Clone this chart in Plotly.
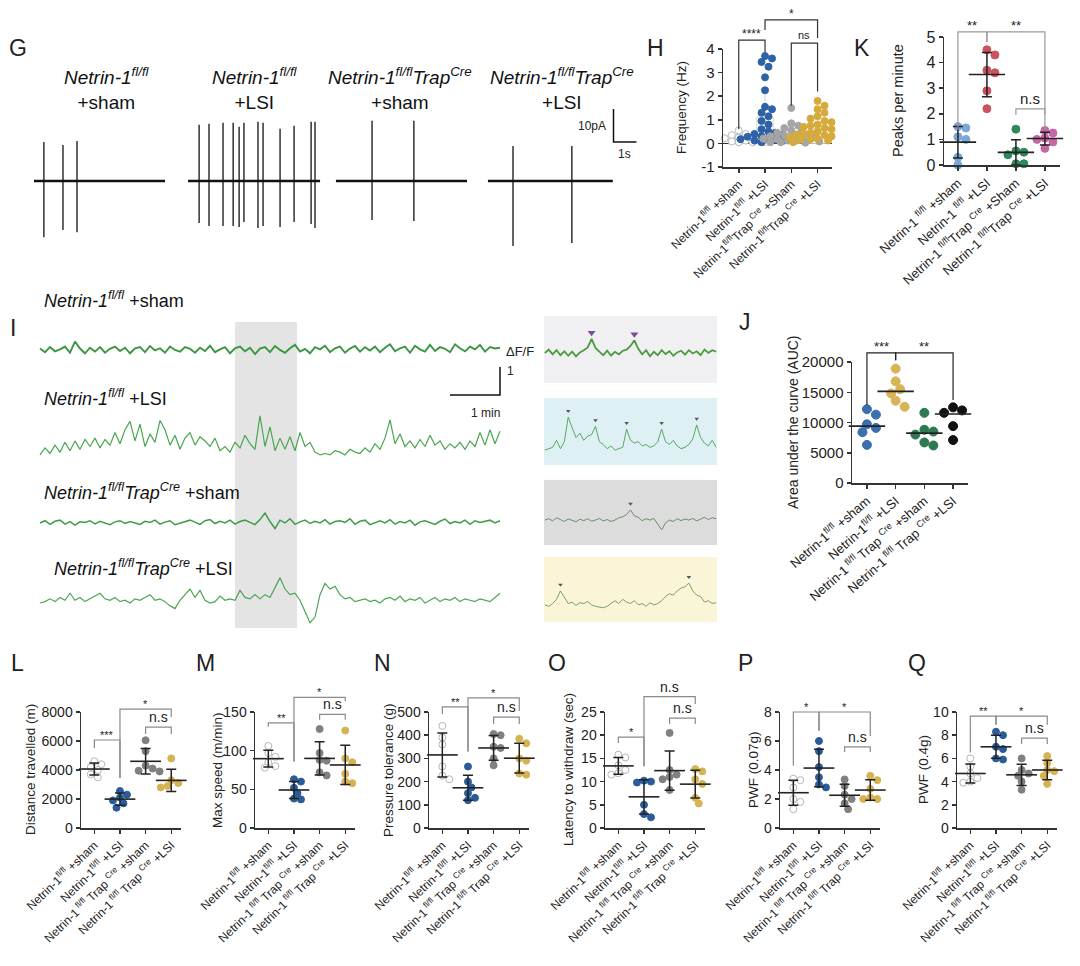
import numpy as np
import plotly.graph_objects as go

W, H = 1080, 966
FONT = "Arial, 'Liberation Sans', sans-serif"
INK = "#222222"

# ===================== DATA =====================
# ---- Panel G: patch-clamp traces (spike time s, peak pA, trough pA)
G_TRACE_DURATION_S = [5.7, 5.74, 5.7, 5.43]
G_SPIKE_TIMES = [
    [0.43, 1.26, 1.87],
    [0.48, 0.91, 1.52, 1.96, 2.22, 2.43, 3.04, 3.26, 4.0, 4.61, 5.35, 5.52],
    [1.57, 3.39],
    [1.09, 3.65],
]
G_SPIKE_PEAK = [
    [11.8, 10.9, 12.1],
    [17.0, 17.3, 17.6, 17.6, 16.4, 17.6, 17.9, 17.6, 15.8, 16.7, 17.9, 17.9],
    [18.2, 18.2],
    [10.6, 10.6],
]
G_SPIKE_TROUGH = [
    [-17.0, -14.8, -15.5],
    [-12.7, -13.6, -13.6, -13.6, -13.9, -12.4, -14.2, -13.6, -13.9, -12.4, -13.0, -14.2],
    [-11.8, -12.1],
    [-19.7, -18.8],
]
G_HEADERS = [
    "<i>Netrin-1<sup>fl/fl</sup></i><br>+sham",
    "<i>Netrin-1<sup>fl/fl</sup></i><br>+LSI",
    "<i>Netrin-1<sup>fl/fl</sup>Trap<sup>Cre</sup></i><br>+sham",
    "<i>Netrin-1<sup>fl/fl</sup>Trap<sup>Cre</sup></i><br>+LSI",
]

# ---- Panel I: ΔF/F traces sampled every 0.1 min
I_STEP_MIN = 0.1
I_SHAM = [0.05, -0.08, 0.1, -0.05, 0.02, 0.12, -0.1, 0.3, 0.05, -0.12, 0.08, -0.06, 0.1, -0.1, 0.04,
          0.12, -0.04, 0.08, -0.12, 0.06, 0.1, -0.08, 0.14, -0.02, 0.06, -0.1, 0.12, 0.0, -0.06, 0.1,
          0.04, -0.1, 0.08, -0.04, 0.15, -0.08, 0.02, 0.1, -0.12, 0.06, 0.12, -0.05, 0.08, -0.15, 0.05,
          0.1, -0.08, 0.14, 0.0, -0.1, 0.06, 0.18, -0.06, 0.04, -0.12, 0.1, 0.02, 0.15, -0.08, 0.06,
          0.12, -0.1, 0.05, 0.14, -0.06, 0.1, -0.02, 0.12, -0.08, 0.08, 0.2, -0.05, 0.06, 0.12, -0.1,
          0.15, 0.02, -0.06, 0.18, -0.04, 0.1, 0.04, -0.08, 0.2, 0.06, -0.05, 0.12, 0.02, 0.18, -0.06,
          0.1, 0.05, 0.08]
I_LSI = [0.0, 0.25, 0.05, 0.35, 0.1, 0.45, 0.15, 0.5, 0.2, 0.55, 0.3, 0.6, 0.25, 0.55, 0.35,
         0.8, 0.4, 0.9, 1.2, 0.5, 1.1, 0.3, 0.75, 0.45, 1.23, 0.9, 0.35, 0.7, 0.2, 0.6,
         0.8, 0.35, 0.65, 0.5, 0.3, 0.6, 0.15, 0.3, 0.1, 0.45, 0.25, 0.7, 0.4, 0.2, 1.4,
         0.3, 1.0, 0.15, 0.6, 0.2, 0.65, 0.15, 0.8, 0.3, 0.45, 0.1, 0.0, 0.05, 0.0, 0.15,
         0.1, 0.0, 0.2, 0.1, 0.05, 0.25, 0.1, 0.4, 0.2, 0.6, 1.25, 0.4, 0.75, 0.3, 0.5,
         0.25, 0.55, 0.3, 0.7, 0.35, 0.5, 0.2, 0.4, 0.25, 0.45, 0.2, 0.5, 0.3, 0.8, 0.35,
         0.9, 0.4, 0.85]
I_TRAP_SHAM = [0.0, 0.08, -0.05, 0.06, 0.1, -0.04, 0.05, -0.08, 0.04, 0.02, 0.08, -0.03, 0.06, 0.0, -0.06,
               0.04, 0.08, -0.02, 0.05, 0.0, -0.05, 0.06, 0.02, 0.1, -0.04, 0.03, 0.08, -0.06, 0.0, 0.05,
               0.1, 0.03, -0.05, 0.08, 0.12, -0.02, 0.06, 0.0, 0.1, -0.04, 0.05, 0.1, 0.02, -0.06, 0.12,
               0.35, 0.05, -0.2, 0.1, 0.0, 0.15, -0.05, 0.04, 0.1, -0.02, 0.06, 0.0, 0.12, -0.04, 0.05,
               0.08, 0.02, 0.15, -0.05, 0.06, 0.1, -0.06, 0.02, 0.08, 0.0, 0.12, -0.04, 0.05, 0.0, 0.1,
               -0.08, 0.04, 0.08, 0.02, -0.05, 0.06, 0.14, -0.02, 0.05, 0.0, 0.1, -0.05, 0.08, 0.02, 0.06,
               0.1, 0.0, 0.08]
I_TRAP_LSI = [0.0, 0.05, 0.15, 0.05, 0.2, 0.1, 0.35, 0.1, 0.2, 0.05, 0.15, 0.25, 0.35, 0.15, 0.1,
              0.2, 0.05, 0.1, 0.0, 0.15, 0.1, 0.2, 0.3, 0.1, 0.15, 0.05, -0.1, -0.2, 0.1, 0.3,
              0.5, 0.2, 0.45, 0.1, 0.0, 0.05, 0.25, 0.1, 0.15, 0.1, 0.45, 0.2, 0.15, 0.3, 0.15,
              0.3, 0.2, 0.55, 0.9, 0.5, 0.3, 0.35, 0.1, -0.3, -0.7, -0.5, 0.3, 0.7, 0.5, 0.6,
              0.3, 0.15, 0.2, 0.05, 0.1, 0.15, 0.05, 0.1, 0.0, 0.15, 0.2, 0.1, 0.25, 0.05, 0.15,
              0.1, 0.2, 0.0, 0.1, 0.2, 0.05, 0.15, 0.1, 0.2, 0.05, 0.15, 0.1, 0.05, 0.15, 0.1,
              0.05, 0.2, 0.35]
I_LABELS = [
    "<i>Netrin-1<sup>fl/fl</sup></i> +sham",
    "<i>Netrin-1<sup>fl/fl</sup></i> +LSI",
    "<i>Netrin-1<sup>fl/fl</sup>Trap<sup>Cre</sup></i> +sham",
    "<i>Netrin-1<sup>fl/fl</sup>Trap<sup>Cre</sup></i> +LSI",
]
# insets (zoomed segments) and detected peaks (sample index)
INSET_SHAM = [0.0, 0.12, -0.05, 0.1, -0.08, 0.06, -0.1, 0.05, -0.12, 0.02, 0.1, 0.2, 0.5, 0.18, 0.05,
              -0.08, 0.08, -0.1, 0.04, -0.05, 0.08, 0.12, 0.25, 0.45, 0.15, -0.05, 0.1, -0.12, 0.04, -0.08,
              0.1, -0.04, 0.06, -0.1, 0.02, 0.08, -0.06, 0.1, -0.02, 0.06, -0.08, 0.12, 0.0, 0.1, 0.05]
INSET_LSI = [0.0, 0.05, 0.1, 0.35, 0.05, 0.3, 1.18, 0.8, 0.45, 0.6, 0.35, 0.5, 0.55, 0.85, 0.3,
             0.2, 0.05, 0.15, 0.0, 0.05, 0.1, 0.75, 0.35, 0.25, 0.3, 0.15, 0.2, 0.1, 0.15, 0.3,
             0.75, 0.3, 0.2, 0.35, 0.15, 0.05, 0.1, 0.2, 0.4, 0.9, 0.45, 0.25, 0.15, 0.35, 0.1]
INSET_TRAP_SHAM = [0.0, 0.05, -0.03, 0.08, 0.02, -0.05, 0.04, 0.0, -0.06, 0.03, -0.02, 0.05, -0.04, 0.0, 0.06,
                   -0.03, 0.02, -0.05, 0.0, 0.08, 0.12, 0.2, 0.36, 0.15, 0.1, -0.02, 0.05, 0.0, 0.06, -0.15,
                   -0.35, -0.1, 0.0, -0.05, 0.05, -0.02, 0.04, 0.0, 0.06, -0.03, 0.05, 0.1, 0.02, 0.08, 0.05]
INSET_TRAP_LSI = [0.0, -0.05, 0.05, 0.2, 0.5, 0.25, 0.05, 0.1, -0.02, 0.08, 0.05, 0.12, 0.0, -0.05, -0.08,
                  -0.1, -0.05, 0.05, 0.15, 0.05, 0.2, 0.1, 0.05, 0.15, 0.0, 0.05, -0.05, 0.08, 0.0, 0.05,
                  0.15, 0.3, 0.4, 0.35, 0.5, 0.6, 0.65, 0.78, 0.5, 0.35, 0.3, 0.1, 0.15, 0.05, 0.08]
INSET_PEAKS = [[12, 23], [6, 13, 21, 30, 39], [22], [4, 37]]

# ---- Panel H: firing frequency (Hz)
H_SHAM = [0.55, 0.4, 0.35, 0.3, 0.25, 0.22, 0.2, 0.18, 0.15, 0.12, 0.1, 0.08, 0.05, 0.05, 0.02]
H_LSI = [3.7, 3.6, 3.45, 3.25, 2.8, 2.25, 1.55, 1.45, 1.3, 1.15, 0.95, 0.8, 0.6, 0.5, 0.45, 0.4,
         0.35, 0.3, 0.28, 0.25, 0.2, 0.18, 0.15, 0.12, 0.1, 0.08, 0.05]
H_TRAP_SHAM = [1.5, 0.85, 0.75, 0.65, 0.55, 0.5, 0.45, 0.4, 0.35, 0.32, 0.3, 0.25, 0.22, 0.2, 0.18,
               0.15, 0.12, 0.1, 0.08, 0.05, 0.05, 0.03]
H_TRAP_LSI = [1.8, 1.6, 1.45, 1.3, 1.15, 1.05, 0.95, 0.9, 0.8, 0.75, 0.7, 0.65, 0.6, 0.55, 0.5,
              0.45, 0.4, 0.38, 0.35, 0.3, 0.28, 0.25, 0.2, 0.18, 0.15, 0.12, 0.1, 0.08, 0.05]
H_TICKS = [-1, 0, 1, 2, 3, 4]

# ---- Panel K: peaks per minute
K_VALUES = [[1.5, 1.45, 1.1, 1.0, 0.3, 0.0], [4.5, 4.3, 3.7, 3.6, 2.9, 2.2],
            [1.4, 0.55, 0.5, 0.4, 0.05, 0.05], [1.35, 1.25, 1.05, 1.0, 0.9, 0.65]]
K_TICKS = [0, 1, 2, 3, 4, 5]

# ---- Panel J: area under the curve
J_VALUES = [[12200, 11300, 9700, 9100, 8400, 6300], [18900, 16800, 15500, 14800, 13600, 12600],
            [11600, 8800, 8500, 8000, 6700, 6200], [12500, 12000, 11600, 11200, 9400, 7100]]
J_TICKS = [0, 5000, 10000, 15000, 20000]

# ---- Panels L-Q: behaviour
L_VALUES = [[4600, 4400, 4200, 4000, 3700, 3500], [2550, 2300, 2100, 1900, 1700, 1400],
            [6050, 5300, 4300, 4100, 3950, 3900], [4800, 3300, 3100, 2900, 2800, 2800]]
M_VALUES = [[106, 97, 92, 85, 80, 78], [63, 60, 52, 45, 38, 37],
            [128, 97, 88, 87, 72, 68], [126, 90, 85, 70, 60, 58]]
N_VALUES = [[440, 390, 360, 265, 225, 210], [265, 200, 175, 150, 130, 120],
            [405, 400, 350, 345, 300, 270], [385, 365, 300, 290, 235, 230]]
O_VALUES = [[15.8, 15.2, 13.5, 12.5, 11.8, 11.5], [10.2, 10.0, 9.8, 5.0, 3.0, 2.3],
            [20.5, 12.5, 11.5, 11.0, 10.5, 8.2], [12.7, 12.2, 10.5, 9.5, 6.5, 5.3]]
P_VALUES = [[3.4, 3.3, 2.8, 2.0, 1.8, 1.3], [6.0, 5.3, 4.2, 3.5, 3.0, 2.8],
            [3.35, 2.9, 2.3, 2.0, 1.7, 1.3], [3.6, 3.3, 2.7, 2.1, 2.0, 2.0]]
Q_VALUES = [[6.0, 5.3, 4.7, 4.3, 4.0, 3.9], [8.3, 8.0, 7.0, 6.8, 6.0, 5.9],
            [6.0, 5.0, 4.7, 4.5, 4.0, 3.3], [6.2, 5.6, 5.0, 4.9, 4.5, 3.8]]
L_TICKS = [0, 2000, 4000, 6000, 8000]
M_TICKS = [0, 50, 100, 150]
N_TICKS = [0, 100, 200, 300, 400, 500]
O_TICKS = [0, 5, 10, 15, 20, 25]
P_TICKS = [0, 2, 4, 6, 8]
Q_TICKS = [0, 2, 4, 6, 8, 10]

H_LABELS = ["Netrin-1<sup>fl/fl</sup> +sham", "Netrin-1<sup>fl/fl</sup> +LSI",
            "Netrin-1<sup>fl/fl</sup>Trap<sup> Cre</sup> +Sham", "Netrin-1<sup>fl/fl</sup>Trap<sup> Cre</sup> +LSI"]
K_LABELS = ["Netrin-1 <sup>fl/fl</sup> +sham", "Netrin-1 <sup>fl/fl</sup> +LSI",
            "Netrin-1 <sup>fl/fl</sup>Trap <sup>Cre</sup> +Sham", "Netrin-1 <sup>fl/fl</sup>Trap <sup>Cre</sup> +LSI"]
STD_LABELS = ["Netrin-1<sup>fl/fl</sup> +sham", "Netrin-1<sup>fl/fl</sup> +LSI",
              "Netrin-1<sup> fl/fl</sup> Trap <sup>Cre</sup> +sham", "Netrin-1<sup> fl/fl</sup> Trap <sup>Cre</sup> +LSI"]

# significance brackets: (group i, group j, top, end at i, end at j, label)
H_SIG = [(0, 1, 4.38, 0.6, 3.85, "****"), (2, 3, 4.25, 1.6, 2.2, "ns"), (1, 3, 5.23, 4.8, 4.47, "*")]
K_SIG = [(0, 1, 5.2, 1.37, 4.8, "**"), (1, 3, 5.2, 4.8, 1.37, "**"), (2, 3, 2.19, 1.95, 1.95, "n.s")]
J_SIG = [(0, 1, 21500, 12900, 20300, "***"), (1, 3, 21500, 20300, 13700, "**")]
L_SIG = [(0, 1, 6070, 5520, 3450, "***"), (1, 3, 8200, 3450, 7650, "*"), (2, 3, 6960, 6480, 6480, "n.s")]
M_SIG = [(0, 1, 136, 131, 86, "**"), (1, 3, 169, 86, 164, "*"), (2, 3, 147, 140, 140, "n.s")]
N_SIG = [(0, 1, 522, 491, 330, "**"), (1, 3, 561, 330, 504, "*"), (2, 3, 478, 448, 448, "n.s")]
O_SIG = [(0, 1, 19.6, 18.3, 13.3, "*"), (1, 3, 28.3, 13.3, 26.7, "n.s"), (2, 3, 23.7, 22.4, 22.4, "n.s")]
P_SIG = [(0, 1, 8.0, 4.3, 6.7, "*"), (1, 3, 8.0, 6.7, 6.35, "*"), (2, 3, 5.6, 5.25, 5.25, "n.s")]
Q_SIG = [(0, 1, 9.65, 6.5, 8.9, "**"), (1, 3, 9.65, 8.9, 8.9, "*"), (2, 3, 7.75, 7.25, 7.25, "n.s")]

# ===================== LAYOUT HELPERS =====================
fig = go.Figure()
layout = dict(width=W, height=H, autosize=False, hovermode=False,
              margin=dict(l=0, r=0, t=0, b=0, pad=0, autoexpand=False),
              paper_bgcolor="white", plot_bgcolor="rgba(0,0,0,0)", showlegend=False,
              font=dict(family=FONT, color=INK))
shapes, annotations = [], []


def xn(n): return "x" if n == 1 else f"x{n}"
def yn(n): return "y" if n == 1 else f"y{n}"
def xk(n): return "xaxis" if n == 1 else f"xaxis{n}"
def yk(n): return "yaxis" if n == 1 else f"yaxis{n}"


def to_paper(ax, x, y):
    (x0p, x1p), (y0p, y1p) = ax["xpx"], ax["ypx"]
    (xa, xb), (ya, yb) = ax["xr"], ax["yr"]
    px = x0p + (x - xa) / (xb - xa) * (x1p - x0p)
    py = y0p + (y - ya) / (yb - ya) * (y1p - y0p)
    return px / W, 1 - py / H


def ann(text, xpx, ypx, size, xanchor="center", yanchor="middle", angle=0, color=INK):
    annotations.append(dict(text=text, x=xpx / W, y=1 - ypx / H, xref="paper", yref="paper",
                            showarrow=False, xanchor=xanchor, yanchor=yanchor, textangle=angle,
                            font=dict(size=size, color=color, family=FONT)))


def hidden_axes(n, ax):
    layout[xk(n)] = dict(domain=[ax["xpx"][0] / W, ax["xpx"][1] / W], range=list(ax["xr"]),
                         visible=False, anchor=yn(n), fixedrange=True, automargin=False)
    layout[yk(n)] = dict(domain=[1 - ax["ypx"][0] / H, 1 - ax["ypx"][1] / H], range=list(ax["yr"]),
                         visible=False, anchor=xn(n), fixedrange=True, automargin=False)


def dot_axes(n, ax, yticks, xlabels, tickfont=14, xfont=12, angle=-44, zeroline=False):
    common = dict(showline=True, linecolor="#333", linewidth=1.5, ticks="outside", ticklen=4,
                  tickwidth=1.5, tickcolor="#333", showgrid=False, fixedrange=True, automargin=False)
    layout[xk(n)] = dict(domain=[ax["xpx"][0] / W, ax["xpx"][1] / W], range=list(ax["xr"]),
                         anchor=yn(n), tickvals=[0, 1, 2, 3], ticktext=xlabels, tickangle=angle,
                         tickfont=dict(size=xfont, color=INK), zeroline=False, **common)
    layout[yk(n)] = dict(domain=[1 - ax["ypx"][0] / H, 1 - ax["ypx"][1] / H], range=list(ax["yr"]),
                         anchor=xn(n), tickvals=yticks, ticktext=[str(v) for v in yticks],
                         tickfont=dict(size=tickfont, color=INK), zeroline=zeroline,
                         zerolinecolor="#333", zerolinewidth=1.5, **common)


def swarm(vals, ppy, ppx, d):
    vals = np.asarray(vals, float)
    order = np.argsort(-vals)
    cands = [0.0]
    for k in range(1, 9):
        cands += [k * d * 0.5, -k * d * 0.5]
    placed, res = [], np.zeros(len(vals))
    for i in order:
        y = vals[i] * ppy
        choice, best_c, best_d = None, 0.0, -1
        for c in cands:
            md = min([np.hypot(c - px, y - py) for px, py in placed], default=1e9)
            if md >= d * 0.92:
                choice = c
                break
            if md > best_d:
                best_d, best_c = md, c
        if choice is None:
            choice = best_c
        placed.append((choice, y))
        res[i] = choice / ppx
    return res


def add_points(n, ax, groups, fills, lines, size):
    ppy = (ax["ypx"][0] - ax["ypx"][1]) / (ax["yr"][1] - ax["yr"][0])
    ppx = (ax["xpx"][1] - ax["xpx"][0]) / (ax["xr"][1] - ax["xr"][0])
    for g, vals in enumerate(groups):
        vals = np.asarray(vals, float)
        offs = swarm(vals, ppy, ppx, size)
        fig.add_trace(go.Scatter(x=g + offs, y=vals, mode="markers", xaxis=xn(n), yaxis=yn(n),
                                 marker=dict(size=size, color=fills[g], line=dict(color=lines[g], width=1)),
                                 cliponaxis=False, hoverinfo="skip"))


def add_summary(n, groups, size, center="mean", sd=True, color=INK):
    c = [float(np.mean(v)) if center == "mean" else float(np.median(v)) for v in groups]
    s = [float(np.std(v, ddof=1)) for v in groups]
    fig.add_trace(go.Scatter(x=list(range(len(groups))), y=c, mode="markers", xaxis=xn(n), yaxis=yn(n),
                             marker=dict(symbol="line-ew", size=size, color=color,
                                         line=dict(color=color, width=1.6)),
                             error_y=dict(type="data", array=s, visible=sd, color=color,
                                          thickness=1.5, width=5),
                             cliponaxis=False, hoverinfo="skip"))


def add_brackets(ax, sig, color, star_size=12, ns_size=13):
    for (i, j, top, yi, yj, lab) in sig:
        x1, y1 = to_paper(ax, i, yi)
        _, yt = to_paper(ax, i, top)
        x2, y2 = to_paper(ax, j, yj)
        shapes.append(dict(type="path", xref="paper", yref="paper",
                           path=f"M{x1},{y1} L{x1},{yt} L{x2},{yt} L{x2},{y2}",
                           line=dict(color=color, width=1.2)))
        xm = (x1 + x2) / 2
        annotations.append(dict(text=lab, x=xm, y=yt, xref="paper", yref="paper", showarrow=False,
                                xanchor="center", yanchor="bottom",
                                yshift=-3 if "*" in lab else 0,
                                font=dict(size=star_size if "*" in lab else ns_size, color=INK,
                                          family=FONT)))


# ===================== PANEL G =====================
G_AX = dict(xpx=(30, 645), ypx=(255, 100), xr=(-0.174, 26.57), yr=(-22.4, 24.5))
G_TRACE_START_S = [0.0, 6.7, 13.13, 19.74]
hidden_axes(1, G_AX)
for k in range(4):
    t0 = G_TRACE_START_S[k]
    fig.add_trace(go.Scatter(x=[t0, t0 + G_TRACE_DURATION_S[k]], y=[0, 0], mode="lines",
                             line=dict(color="#111", width=2.6), xaxis="x", yaxis="y", hoverinfo="skip"))
    sx, sy = [], []
    for t, up, dn in zip(G_SPIKE_TIMES[k], G_SPIKE_PEAK[k], G_SPIKE_TROUGH[k]):
        sx += [t0 + t, t0 + t, None]
        sy += [up, dn, None]
    fig.add_trace(go.Scatter(x=sx, y=sy, mode="lines", line=dict(color="#111", width=1.3),
                             xaxis="x", yaxis="y", hoverinfo="skip"))
# scale bar: 10 pA, 1 s
shapes.append(dict(type="path", xref="x", yref="y", path="M25.2,21.8 L25.2,11.8 L26.2,11.8",
                   line=dict(color="#111", width=1.5)))
annotations.append(dict(text="10pA", x=24.95, y=16.7, xref="x", yref="y", showarrow=False,
                        xanchor="right", font=dict(size=12, family=FONT, color=INK)))
annotations.append(dict(text="1s", x=25.7, y=8.3, xref="x", yref="y", showarrow=False,
                        xanchor="center", font=dict(size=12, family=FONT, color=INK)))
for k, xc in enumerate([107, 255, 400, 562]):
    ann(G_HEADERS[k], xc, 88, 19, color="#111")

# ===================== PANEL I =====================
I_AX = dict(xpx=(30, 545), ypx=(640, 310), xr=(-0.2, 10.1), yr=(0, 11.786))
I_BASELINES = [10.36, 6.61, 4.18, 1.32]
hidden_axes(4, I_AX)
shapes.append(dict(type="rect", xref="x4", yref="y4", x0=3.9, x1=5.14, y0=0.43, y1=11.36,
                   fillcolor="#e4e4e4", line=dict(width=0), layer="below"))
I_COLORS = ["#3a9642", "#48a650", "#3f9c48", "#4ba553"]
I_WIDTHS = [1.9, 1.2, 1.5, 1.2]
for k, vals in enumerate([I_SHAM, I_LSI, I_TRAP_SHAM, I_TRAP_LSI]):
    t = np.arange(len(vals)) * I_STEP_MIN
    fig.add_trace(go.Scatter(x=t, y=np.asarray(vals) + I_BASELINES[k], mode="lines",
                             line=dict(color=I_COLORS[k], width=I_WIDTHS[k]),
                             xaxis="x4", yaxis="y4", hoverinfo="skip"))
for lab, (xl, yl) in zip(I_LABELS, [(42, 300), (42, 397), (42, 491), (52, 567)]):
    ann(lab, xl, yl, 18, xanchor="left", color="#111")
# scale bar: ΔF/F 1, 1 min
shapes.append(dict(type="path", xref="x4", yref="y4", path="M9.2,9.75 L9.2,8.75 L8.2,8.75",
                   line=dict(color="#111", width=1.5)))
annotations.append(dict(text="ΔF/F", x=9.28, y=10.29, xref="x4", yref="y4", showarrow=False,
                        xanchor="left", font=dict(size=13, family=FONT, color=INK)))
annotations.append(dict(text="1", x=9.3, y=9.6, xref="x4", yref="y4", showarrow=False,
                        xanchor="left", font=dict(size=12, family=FONT, color=INK)))
annotations.append(dict(text="1 min", x=8.9, y=8.1, xref="x4", yref="y4", showarrow=False,
                        xanchor="center", font=dict(size=12, family=FONT, color=INK)))

# insets
IN_AX = dict(xpx=(544, 717), ypx=(622, 316), xr=(0, 1), yr=(0, 10.93))
IN_BASELINES = [9.61, 6.14, 3.64, 0.61]
IN_RECTS = [(8.54, 10.93, "#f0f0f3"), (5.61, 8.0, "#def0f4"), (2.75, 5.07, "#dcdcdc"), (0.0, 2.32, "#fbf5d8")]
hidden_axes(5, IN_AX)
for (y0, y1, col) in IN_RECTS:
    shapes.append(dict(type="rect", xref="x5", yref="y5", x0=0, x1=1, y0=y0, y1=y1,
                       fillcolor=col, line=dict(width=0), layer="below"))
IN_COLORS = ["#4b9a3e", "#5aa863", "#6f8c6c", "#7f9c70"]
IN_WIDTHS = [1.8, 1.0, 1.0, 1.0]
for k, vals in enumerate([INSET_SHAM, INSET_LSI, INSET_TRAP_SHAM, INSET_TRAP_LSI]):
    vals = np.asarray(vals)
    x = np.linspace(0.005, 0.995, len(vals))
    fig.add_trace(go.Scatter(x=x, y=vals + IN_BASELINES[k], mode="lines",
                             line=dict(color=IN_COLORS[k], width=IN_WIDTHS[k]),
                             xaxis="x5", yaxis="y5", hoverinfo="skip"))
    pk = INSET_PEAKS[k]
    fig.add_trace(go.Scatter(x=x[pk], y=vals[pk] + IN_BASELINES[k] + 0.22, mode="markers",
                             marker=dict(symbol="triangle-down", size=7 if k == 0 else 4,
                                         color="#7a4f9a" if k == 0 else "#555566"),
                             xaxis="x5", yaxis="y5", hoverinfo="skip"))

# ===================== PANEL H =====================
H_AX = dict(xpx=(723, 832), ypx=(167, 49), xr=(-0.6, 3.55), yr=(-1, 4))
H_GROUPS = [H_SHAM, H_LSI, H_TRAP_SHAM, H_TRAP_LSI]
dot_axes(2, H_AX, H_TICKS, H_LABELS, tickfont=15, xfont=12, angle=-44, zeroline=True)
fig.add_trace(go.Bar(x=[0, 1, 2, 3], y=[float(np.mean(v)) for v in H_GROUPS], width=0.62,
                     marker=dict(color="rgba(255,255,255,0)", line=dict(color="#d2d2d2", width=1)),
                     error_y=dict(type="data", array=[float(np.std(v, ddof=1)) for v in H_GROUPS],
                                  color="#d2d2d2", thickness=1, width=4),
                     xaxis="x2", yaxis="y2", hoverinfo="skip"))
add_points(2, H_AX, H_GROUPS, ["white", "#2d62a6", "#a5a5a5", "#d6ab3c"],
           ["#b8b8b8", "#2d62a6", "#a5a5a5", "#d6ab3c"], 7)
add_brackets(H_AX, H_SIG, "#333", star_size=12, ns_size=11)

# ===================== PANEL K =====================
K_AX = dict(xpx=(944, 1060), ypx=(165, 37), xr=(-0.48, 3.52), yr=(0, 5))
dot_axes(3, K_AX, K_TICKS, K_LABELS, tickfont=16, xfont=13, angle=-42)
add_points(3, K_AX, K_VALUES, ["#7ba7d4", "#c9525d", "#2e8a5c", "#c766a6"],
           ["#7ba7d4", "#c9525d", "#2e8a5c", "#c766a6"], 8)
add_summary(3, K_VALUES, 26)
add_brackets(K_AX, K_SIG, "#999", star_size=13, ns_size=15)

# ===================== PANEL J =====================
J_AX = dict(xpx=(852, 968), ypx=(483, 362), xr=(-0.52, 3.52), yr=(0, 20000))
dot_axes(6, J_AX, J_TICKS, STD_LABELS, tickfont=15, xfont=13, angle=-41)
add_points(6, J_AX, J_VALUES, ["#3b6fae", "#d8b457", "#2d7a52", "#111111"],
           ["#3b6fae", "#d8b457", "#2d7a52", "#111111"], 9)
add_summary(6, J_VALUES, 26, center="median", sd=False)
add_brackets(J_AX, J_SIG, "#222", star_size=13)

# ===================== PANELS L-Q =====================
BOT_FILL = ["white", "#2b5c9a", "#808080", "#d6b352"]
BOT_LINE = ["#b5b5b5", "#2b5c9a", "#808080", "#d6b352"]
bottom = [
    (7, 81, L_VALUES, (0, 8000), L_TICKS, "Distance travelled (m)", 30, L_SIG, "L", 17),
    (8, 255, M_VALUES, (0, 150), M_TICKS, "Max speed (m/min)", 217, M_SIG, "M", 205),
    (9, 429, N_VALUES, (0, 500), N_TICKS, "Pressure tolerance (g)", 388, N_SIG, "N", 382),
    (10, 605, O_VALUES, (0, 25), O_TICKS, "Latency to withdraw (sec)", 568, O_SIG, "O", 557),
    (11, 780, P_VALUES, (0, 8), P_TICKS, "PWF (0.07g)", 753, P_SIG, "P", 745),
    (12, 957, Q_VALUES, (0, 10), Q_TICKS, "PWF (0.4g)", 923, Q_SIG, "Q", 917),
]
for (n, x0, vals, yr, ticks, title, tx, sig, letter, lx) in bottom:
    ax = dict(xpx=(x0, x0 + 100), ypx=(828, 712), xr=(-0.52, 3.38), yr=yr)
    dot_axes(n, ax, ticks, STD_LABELS, tickfont=14, xfont=12, angle=-44)
    add_points(n, ax, vals, BOT_FILL, BOT_LINE, 7)
    add_summary(n, vals, 22)
    add_brackets(ax, sig, "#8a8a8a", star_size=11, ns_size=14)
    ann(title, tx, 770, 13.5, angle=-90)
    ann(letter, lx, 663, 23)

# axis titles & panel letters for the top-right panels
ann("Frequency (Hz)", 682, 108, 13.5, angle=-90)
ann("Peaks per minute", 898, 101, 14.5, angle=-90)
ann("Area under the curve (AUC)", 793, 422, 14, angle=-90)
ann("G", 18, 48, 23)
ann("H", 655, 48, 23)
ann("K", 862, 48, 23)
ann("I", 13, 328, 23)
ann("J", 745, 322, 23)

layout["shapes"] = shapes
layout["annotations"] = annotations
fig.update_layout(**layout)
fig.write_html("out.html", config={"displayModeBar": False, "staticPlot": True},
               post_script="document.body.style.margin='0px';document.body.style.padding='0px';")
